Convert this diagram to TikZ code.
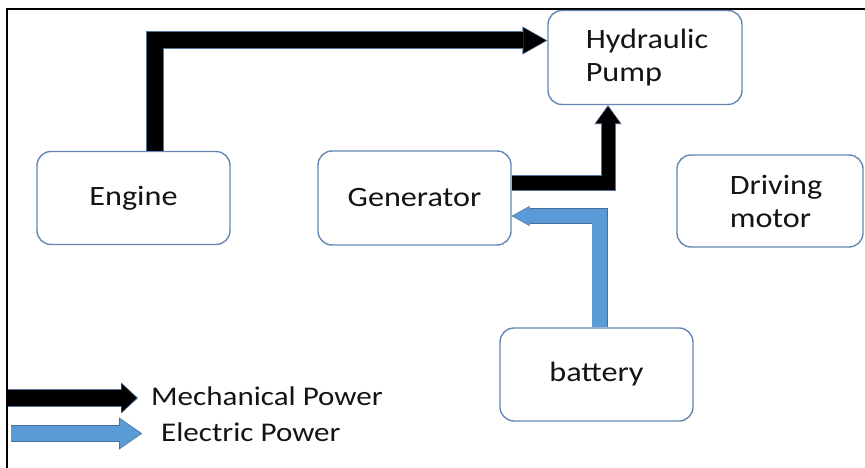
\documentclass[tikz,border=0pt]{standalone}
\usepackage{fontspec}
\setmainfont{Carlito}[FakeStretch=1.15]
\usetikzlibrary{arrows.meta}
\definecolor{boxline}{RGB}{100,135,180}
\definecolor{mechline}{RGB}{85,115,155}
\definecolor{elecfill}{RGB}{91,155,213}
\definecolor{elecline}{RGB}{65,113,156}
\definecolor{txt}{RGB}{20,20,20}
\tikzset{
  blk/.style={draw=boxline, line width=1.4pt, rounded corners=14pt, fill=white,
    inner sep=0pt, align=left, text=txt, font=\fontsize{28}{33}\selectfont},
  legtext/.style={anchor=west, inner sep=0pt, text=txt, font=\fontsize{27}{32}\selectfont},
  shaft/.style={line join=miter, line cap=butt},
}
\begin{document}
\begin{tikzpicture}[x=1pt,y=-1pt]
\useasboundingbox (0,0) rectangle (865,468);
% frame
\draw[line width=2.3pt] (6.8,468) -- (6.8,9.3) -- (865,9.3);
% boxes
\node[blk, minimum width=193pt, minimum height=93pt] (engine) at (133.5,198) {Engine};
\node[blk, minimum width=193pt, minimum height=94pt] (gen) at (414.5,198) {Generator};
\node[blk, minimum width=194pt, minimum height=94pt] (pump) at (645,57.5) {\hspace*{4pt}Hydraulic\\\hspace*{4pt}Pump};
\node[blk, minimum width=186pt, minimum height=92pt] (motor) at (770,201) {\hspace*{12pt}Driving\\\hspace*{12pt}motor};
\node[blk, minimum width=193pt, minimum height=93pt] (battery) at (596.5,374.5) {battery};
% engine -> pump (mechanical)
\draw[shaft, mechline, line width=18pt, -{Triangle[width=28pt,length=25pt,line width=0.1pt]}]
  ([xshift=21.5pt]engine.north) |- ([yshift=17pt]pump.west);
\draw[shaft, black, line width=16pt, shorten >=1.5pt, -{Triangle[width=25.5pt,length=22.5pt,line width=0.1pt]}]
  ([xshift=21.5pt]engine.north) |- ([yshift=17pt]pump.west);
% generator -> pump (mechanical)
\draw[shaft, mechline, line width=15pt, -{Triangle[width=27pt,length=19pt,line width=0.1pt]}]
  ([yshift=15pt]gen.east) -| ([xshift=-37pt]pump.south);
\draw[shaft, black, line width=13pt, shorten >=1.5pt, -{Triangle[width=24.5pt,length=16.5pt,line width=0.1pt]}]
  ([yshift=15pt]gen.east) -| ([xshift=-37pt]pump.south);
% battery -> generator (electric)
\draw[shaft, elecline, line width=16pt, -{Triangle[width=20pt,length=18pt,line width=0.1pt]}]
  ([xshift=3pt]battery.north) |- ([yshift=-18pt]gen.east);
\draw[shaft, elecfill, line width=14.5pt, shorten >=1.2pt, -{Triangle[width=18pt,length=16pt,line width=0.1pt]}]
  ([xshift=3pt]battery.north) |- ([yshift=-18pt]gen.east);
% legend
\coordinate (lm1) at (8,398);
\coordinate (lm2) at (138,398);
\coordinate (le1) at (11,433.5);
\coordinate (le2) at (142,433.5);
\draw[shaft, mechline, line width=18pt, -{Triangle[width=31pt,length=17pt,line width=0.1pt]}] (lm1) -- (lm2);
\draw[shaft, black, line width=16pt, shorten >=1.5pt, -{Triangle[width=28.5pt,length=15pt,line width=0.1pt]}] (lm1) -- (lm2);
\draw[shaft, elecline, line width=17pt, -{Triangle[width=32pt,length=23pt,line width=0.1pt]}] (le1) -- (le2);
\draw[shaft, elecfill, line width=15pt, shorten >=1.5pt, -{Triangle[width=29.5pt,length=20.5pt,line width=0.1pt]}] (le1) -- (le2);
\node[legtext] (lmt) at (151,396) {Mechanical Power};
\node[legtext] (let) at (161,432) {Electric Power};
\end{tikzpicture}
\end{document}
